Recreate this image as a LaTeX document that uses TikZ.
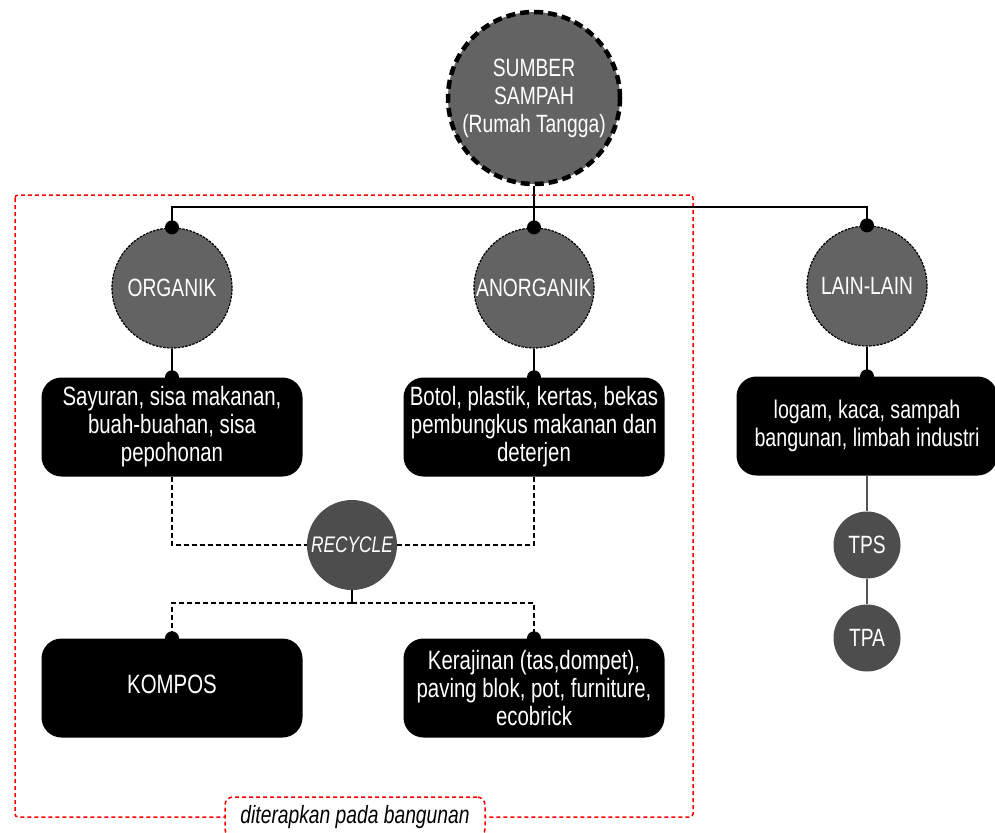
\documentclass[tikz,border=0pt]{standalone}
\usepackage{fontspec}
\setmainfont{Liberation Sans}[FakeStretch=0.77]
\definecolor{gcirc}{HTML}{636363}
\definecolor{gdark}{HTML}{4D4D4D}
\definecolor{gline}{HTML}{555555}
\begin{document}
\begin{tikzpicture}[x=1pt,y=-1pt]
\tikzset{every node/.style={font=\fontsize{25}{28}\selectfont, text=white, align=center},
    src/.style={circle, fill=gcirc, draw=black, line width=4.5pt, dash pattern=on 9pt off 5pt, minimum size=172pt, inner sep=0pt},
    kat/.style={circle, fill=gcirc, draw=black, line width=1.2pt, dash pattern=on 2.5pt off 1.2pt, minimum size=120pt, inner sep=0pt},
    isi/.style={rectangle, rounded corners=20pt, fill=black, minimum width=261pt, minimum height=99pt, inner sep=0pt, font=\fontsize{26.5}{28}\selectfont},
    kecil/.style={circle, fill=gdark, minimum size=67pt, inner sep=0pt},
    dline/.style={black, line width=2.5pt, dash pattern=on 5pt off 3pt},
    sline/.style={black, line width=1.2pt},
    frame/.style={red, line width=1.5pt, dash pattern=on 4pt off 3pt},
    dot/.style={fill=black}}
\useasboundingbox (0,0) rectangle (995,832);
\draw[frame, rounded corners=3pt] (15,195) rectangle (693,817);
\node[src] (src) at (534,98) {SUMBER\\SAMPAH\\(Rumah Tangga)};
\node[kat] (org) at (172,288) {ORGANIK};
\node[kat] (anorg) at (534,288) {ANORGANIK};
\node[kat] (lain) at (867,286) {LAIN-LAIN};
\node[isi] (b1) at (172,427) {Sayuran, sisa makanan,\\buah-buahan, sisa\\pepohonan};
\node[isi] (b2) at (534,427) {Botol, plastik, kertas, bekas\\pembungkus makanan dan\\deterjen};
\node[isi, font=\fontsize{25.5}{28}\selectfont] (b5) at (867,426) {logam, kaca, sampah\\bangunan, limbah industri};
\node[circle, fill=gdark, minimum size=90pt, inner sep=0pt, font=\fontsize{22.5}{26}\selectfont\itshape] (rec) at (352,545) {RECYCLE};
\node[isi] (b3) at (172,688) {\raisebox{8pt}{KOMPOS}};
\node[isi] (b4) at (534,688) {Kerajinan (tas,dompet),\\paving blok, pot, furniture,\\ecobrick};
\node[kecil] (tps) at (867,545) {TPS};
\node[kecil] (tpa) at (867,638) {TPA};
\coordinate (j0) at (534,207);
\coordinate (j1) at (352,603);
\draw[sline] (src.south) -- (anorg.north);
\draw[sline] (org.north) |- (j0) -| (lain.north);
\draw[sline] (org.south) -- (b1.north);
\draw[sline] (anorg.south) -- (b2.north);
\draw[sline] (lain.south) -- (b5.north);
\draw[dline] (b1.south) |- (rec.west);
\draw[dline] (b2.south) |- (rec.east);
\draw[line width=2.5pt] (rec.south) -- (j1);
\draw[dline] (j1) -| (b3.north);
\draw[dline] (j1) -| (b4.north);
\draw[gline, line width=1.5pt] (b5.south) -- (tps.north);
\draw[gline, line width=1.5pt] (tps.south) -- (tpa.north);
\foreach \p in {org.north, anorg.north, lain.north, b1.north, b2.north, b5.north, b3.north, b4.north}
  \fill[dot] (\p) circle (7pt);
\node[draw=red, frame, fill=white, rounded corners=8pt, minimum width=260pt, minimum height=40pt, text=black, font=\fontsize{25}{28}\selectfont\itshape] (lbl) at (355,817) {diterapkan pada bangunan};
\end{tikzpicture}
\end{document}
